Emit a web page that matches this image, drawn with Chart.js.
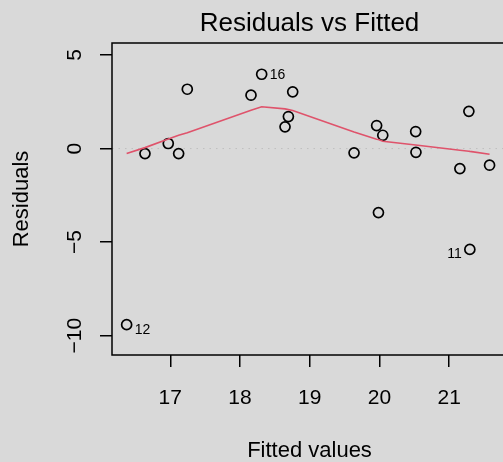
<!DOCTYPE html>
<html>
<head>
<meta charset="utf-8">
<script src="https://cdn.jsdelivr.net/npm/chart.js@4"></script>
<style>
  html, body { margin: 0; padding: 0; overflow: hidden; background: #d9d9d9; }
  canvas { display: block; }
</style>
</head>
<body>
<canvas id="myChart" width="540" height="462"></canvas>
<script>
// fitted values, residuals and the lowess smooth (sorted by fitted value)
const fitted = [16.374, 16.637, 16.971, 17.12, 17.244, 18.158, 18.311, 18.646, 18.694, 18.756,
                19.636, 19.96, 19.986, 20.048, 20.52, 20.524, 21.154, 21.283, 21.297, 21.58];
const residuals = [-9.41, -0.27, 0.27, -0.27, 3.17, 2.85, 3.97, 1.16, 1.71, 3.03,
                   -0.23, 1.23, -3.42, 0.71, 0.91, -0.20, -1.07, 1.99, -5.39, -0.89];
const smooth = [-0.27, 0.05, 0.51, 0.71, 0.85, 2.05, 2.23, 2.12, 2.08, 2.03,
                0.89, 0.50, 0.48, 0.39, 0.19, 0.19, -0.09, -0.14, -0.15, -0.30];

// observations flagged with their row number
const idIndex = [0, 6, 18];
const idLabels = ['12', '16', '11'];

const xTicks = [17, 18, 19, 20, 21];
const yTicks = [-10, -5, 0, 5];
const xRange = [16.164, 21.83];
const yRange = [-11.03, 5.64];

const FONT = '"Liberation Sans", Arial, Helvetica, sans-serif';

function fmt(v) {
    return v < 0 ? '\u2212' + Math.abs(v) : String(v);
}

const textPlugin = {
    id: 'plotText',
    afterDraw(chart) {
        const ctx = chart.ctx;
        const area = chart.chartArea;
        const xs = chart.scales.x;
        const ys = chart.scales.y;
        const midX = (area.left + area.right) / 2;
        ctx.save();

        // frame round the plot region
        ctx.strokeStyle = '#000';
        ctx.lineWidth = 1.5;
        ctx.strokeRect(area.left, area.top, area.right - area.left, area.bottom - area.top);

        ctx.fillStyle = '#000';
        ctx.textBaseline = 'alphabetic';
        ctx.textAlign = 'center';

        ctx.font = '26px ' + FONT;
        ctx.fillText('Residuals vs Fitted', midX, 31);

        ctx.font = '21px ' + FONT;
        xTicks.forEach(v => ctx.fillText(fmt(v), xs.getPixelForValue(v), 404));

        ctx.font = '22px ' + FONT;
        ctx.fillText('Fitted values', midX, 457);

        // y tick labels and title run along the axis
        ctx.font = '21px ' + FONT;
        yTicks.forEach(v => {
            ctx.save();
            ctx.translate(81, ys.getPixelForValue(v));
            ctx.rotate(-Math.PI / 2);
            ctx.fillText(fmt(v), 0, 0);
            ctx.restore();
        });
        ctx.save();
        ctx.font = '22px ' + FONT;
        ctx.translate(28, (area.top + area.bottom) / 2);
        ctx.rotate(-Math.PI / 2);
        ctx.fillText('Residuals', 0, 0);
        ctx.restore();

        // id labels: left of the point on the right half, right of it otherwise
        ctx.font = '14px ' + FONT;
        const half = (xRange[0] + xRange[1]) / 2;
        const dy = { '12': 9, '16': 4.5, '11': 9 };
        idIndex.forEach((i, k) => {
            const px = xs.getPixelForValue(fitted[i]);
            const py = ys.getPixelForValue(residuals[i]);
            const right = fitted[i] > half;
            ctx.textAlign = right ? 'right' : 'left';
            ctx.fillText(idLabels[k], px + (right ? -8 : 8), py + dy[idLabels[k]]);
        });
        ctx.restore();
    }
};

const data = {
    datasets: [{
        type: 'line',
        label: 'smooth',
        data: fitted.map((x, i) => ({ x: x, y: smooth[i] })),
        borderColor: '#DF536B',
        borderWidth: 1.6,
        pointRadius: 0,
        tension: 0,
        order: 0
    }, {
        type: 'scatter',
        label: 'residuals',
        data: fitted.map((x, i) => ({ x: x, y: residuals[i] })),
        pointStyle: 'circle',
        pointRadius: 5,
        borderColor: '#000',
        backgroundColor: 'rgba(0,0,0,0)',
        borderWidth: 1.7,
        order: 1
    }, {
        type: 'line',
        label: 'zero',
        data: [{ x: xRange[0], y: 0 }, { x: xRange[1], y: 0 }],
        borderColor: '#bebebe',
        borderWidth: 1,
        borderDash: [1.5, 5],
        pointRadius: 0,
        order: 2
    }]
};

const tickGrid = {
    display: true,
    drawOnChartArea: false,
    drawTicks: true,
    tickLength: 12,
    color: '#000',
    lineWidth: 1.5
};

const config = {
    type: 'scatter',
    data: data,
    options: {
        responsive: false,
        animation: false,
        layout: { padding: { top: 43, right: 33, left: 0, bottom: 0 } },
        plugins: {
            legend: { display: false },
            tooltip: { enabled: false },
            title: { display: false }
        },
        scales: {
            x: {
                type: 'linear',
                min: xRange[0],
                max: xRange[1],
                border: { display: false },
                grid: tickGrid,
                ticks: { display: false },
                afterBuildTicks: s => { s.ticks = xTicks.map(v => ({ value: v })); },
                afterFit: s => { s.height = 107; }
            },
            y: {
                type: 'linear',
                min: yRange[0],
                max: yRange[1],
                border: { display: false },
                grid: tickGrid,
                ticks: { display: false },
                afterBuildTicks: s => { s.ticks = yTicks.map(v => ({ value: v })); },
                afterFit: s => { s.width = 112; }
            }
        }
    },
    plugins: [textPlugin]
};

const myChart = new Chart(document.getElementById('myChart'), config);
</script>
</body>
</html>
